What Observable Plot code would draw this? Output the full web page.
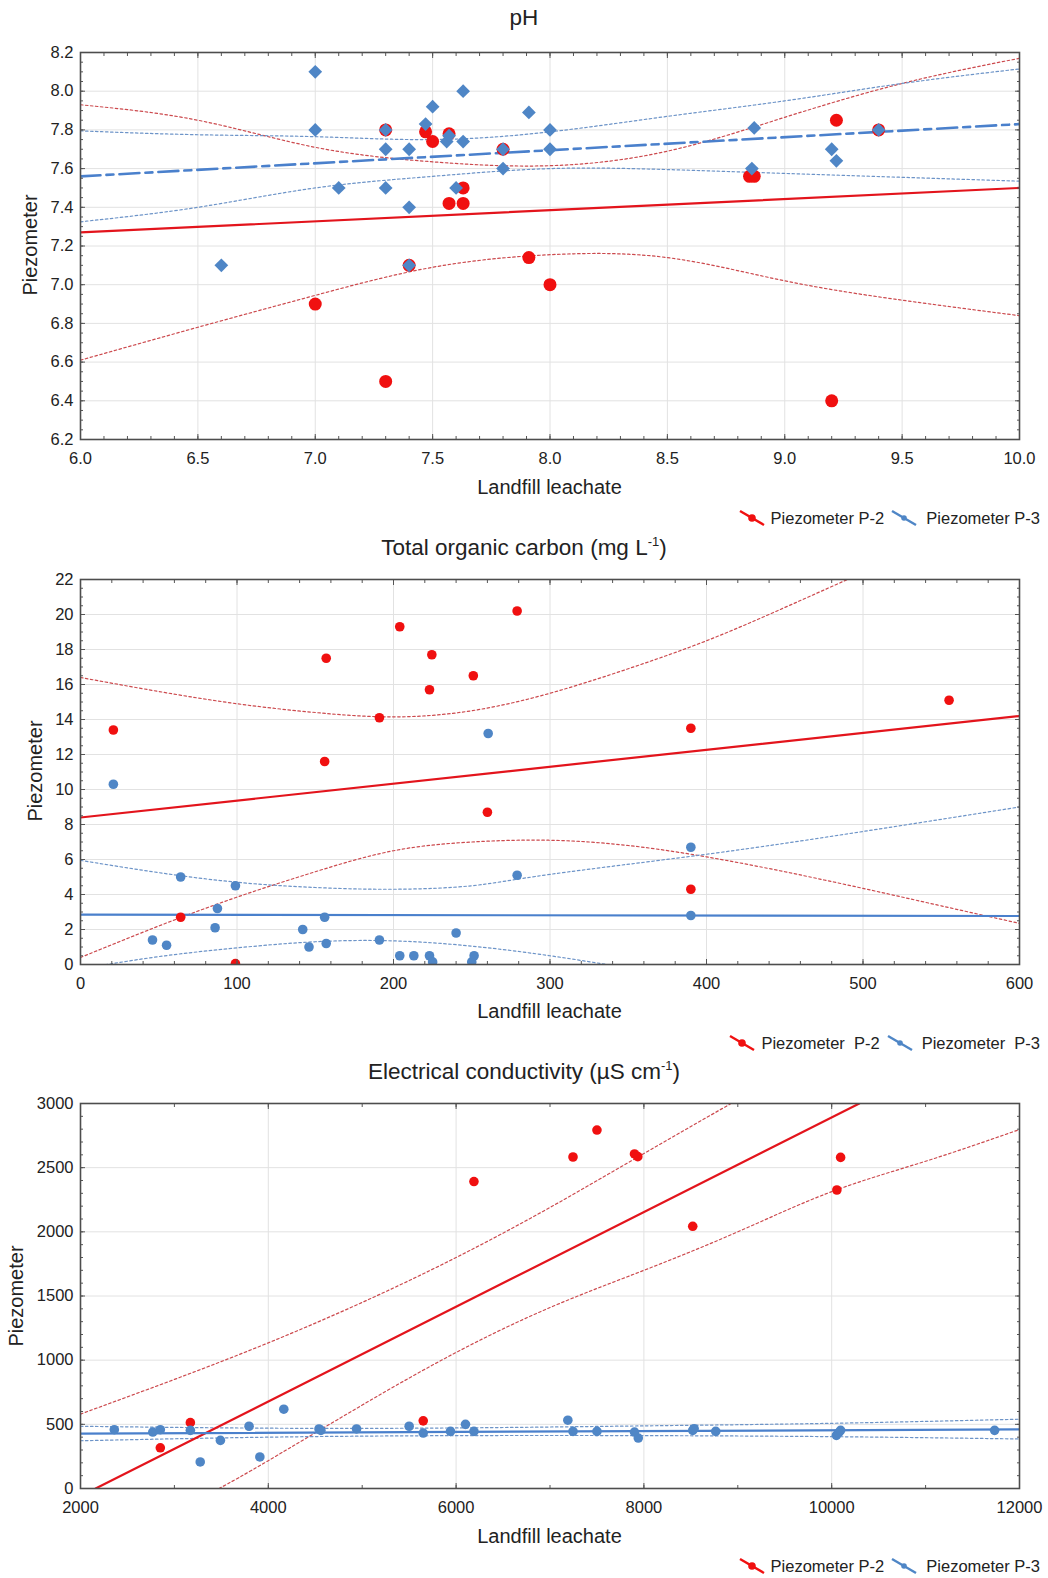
<!DOCTYPE html>
<html><head><meta charset="utf-8">
<script src="https://cdn.jsdelivr.net/npm/d3@7"></script>
<script src="https://cdn.jsdelivr.net/npm/@observablehq/plot@0.6"></script>
<style>
body{margin:0;background:#fff}
#wrap{position:relative;width:1048px;height:1578px;font-family:"Liberation Sans",Arial,Helvetica,sans-serif;color:#222;overflow:hidden;background:#fff}
.title{position:absolute;left:0;width:1048px;text-align:center;font-size:22.5px;line-height:26px;white-space:nowrap}
.title sup{font-size:13px;line-height:0;vertical-align:9px}
.panel{position:absolute;left:0}
.xlab{position:absolute;left:0;width:1099px;text-align:center;font-size:20px;line-height:24px}
.ylab{position:absolute;width:200px;height:24px;line-height:24px;text-align:center;font-size:20px;transform:rotate(-90deg)}
.legend{position:absolute;right:8px;height:22px;display:flex;align-items:center;font-size:16.5px;white-space:pre}
.legend svg{display:block}
</style>
</head><body>
<div id="wrap">
  <div class="title" style="top:5px">pH</div>
  <div class="title" style="top:535px">Total organic carbon (mg L<sup>-1</sup>)</div>
  <div class="title" style="top:1059px">Electrical conductivity (µS cm<sup>-1</sup>)</div>
  <div class="panel" id="p1" style="top:36px"></div>
  <div class="panel" id="p2" style="top:563px"></div>
  <div class="panel" id="p3" style="top:1087px"></div>
  <div class="xlab" style="top:475px">Landfill leachate</div>
  <div class="xlab" style="top:999px">Landfill leachate</div>
  <div class="xlab" style="top:1524px">Landfill leachate</div>
  <div class="ylab" style="left:-70px;top:233px">Piezometer</div>
  <div class="ylab" style="left:-65px;top:759px">Piezometer</div>
  <div class="ylab" style="left:-84px;top:1284px">Piezometer</div>
  <div class="legend" id="lg1" style="top:507px"></div>
  <div class="legend" id="lg2" style="top:1032px"></div>
  <div class="legend" id="lg3" style="top:1555px"></div>
</div>
<script>
// ---------- pH ----------
const phTicksX = [6.0, 6.5, 7.0, 7.5, 8.0, 8.5, 9.0, 9.5, 10.0];
const phTicksY = [6.2, 6.4, 6.6, 6.8, 7.0, 7.2, 7.4, 7.6, 7.8, 8.0, 8.2];
const phP2x = [7.0, 7.3, 7.3, 7.4, 7.47, 7.5, 7.57, 7.57, 7.63, 7.63, 7.8, 7.91, 8.0, 8.85, 8.87, 9.22, 9.2, 9.4];
const phP2y = [6.9, 7.8, 6.5, 7.1, 7.79, 7.74, 7.78, 7.42, 7.42, 7.5, 7.7, 7.14, 7.0, 7.56, 7.56, 7.85, 6.4, 7.8];
const phP3x = [6.6, 7.0, 7.0, 7.1, 7.3, 7.3, 7.3, 7.4, 7.4, 7.4, 7.47, 7.5, 7.56, 7.57, 7.6, 7.63, 7.63, 7.8, 7.8, 7.91, 8.0, 8.0, 8.86, 8.87, 9.2, 9.22, 9.4];
const phP3y = [7.1, 8.1, 7.8, 7.5, 7.8, 7.7, 7.5, 7.7, 7.4, 7.1, 7.83, 7.92, 7.74, 7.77, 7.5, 8.0, 7.74, 7.7, 7.6, 7.89, 7.8, 7.7, 7.6, 7.81, 7.7, 7.64, 7.8];
const phFitX = [6.0, 10.0];
const phP2fit = [7.27, 7.50];
const phP3fit = [7.56, 7.83];
const phCiX = [6.0, 6.5, 7.0, 7.5, 8.0, 8.5, 9.0, 9.5, 10.0];
const phP2up = [7.93, 7.85, 7.71, 7.635, 7.615, 7.69, 7.865, 8.04, 8.17];
const phP2lo = [6.61, 6.78, 6.945, 7.09, 7.155, 7.14, 7.02, 6.92, 6.84];
const phP3up = [7.795, 7.775, 7.765, 7.75, 7.79, 7.87, 7.95, 8.04, 8.115];
const phP3lo = [7.325, 7.40, 7.50, 7.56, 7.60, 7.595, 7.575, 7.555, 7.535];

// ---------- TOC ----------
const tocTicksX = [0, 100, 200, 300, 400, 500, 600];
const tocTicksY = [0, 2, 4, 6, 8, 10, 12, 14, 16, 18, 20, 22];
const tocP2x = [21, 64, 99, 156, 157, 191, 204, 223, 224.5, 251, 260, 279, 390, 390, 555];
const tocP2y = [13.4, 2.7, 0.05, 11.6, 17.5, 14.1, 19.3, 15.7, 17.7, 16.5, 8.7, 20.2, 13.5, 4.3, 15.1];
const tocP3x = [21, 46, 55, 64, 86, 87.5, 99, 142, 146, 156, 157, 191, 204, 213, 223, 225, 240, 250, 251.5, 260.5, 279, 390, 390];
const tocP3y = [10.3, 1.4, 1.1, 5.0, 2.1, 3.2, 4.5, 2.0, 1.0, 2.7, 1.2, 1.4, 0.5, 0.5, 0.5, 0.15, 1.8, 0.15, 0.5, 13.2, 5.1, 6.7, 2.8];
const tocFitX = [0, 600];
const tocP2fit = [8.4, 14.2];
const tocP3fit = [2.85, 2.77];
const tocP2upX = [0, 50, 100, 150, 200, 250, 300, 350, 400, 450, 500];
const tocP2up = [16.4, 15.6, 14.9, 14.4, 14.15, 14.5, 15.5, 16.9, 18.5, 20.4, 22.4];
const tocP2loX = [0, 50, 100, 150, 200, 250, 300, 350, 400, 450, 500, 550, 600];
const tocP2lo = [0.4, 2.2, 3.85, 5.3, 6.5, 7.0, 7.1, 6.8, 6.15, 5.3, 4.35, 3.35, 2.35];
const tocP3upX = [0, 50, 100, 150, 200, 250, 300, 400, 500, 600];
const tocP3up = [5.95, 5.25, 4.7, 4.4, 4.3, 4.5, 5.15, 6.3, 7.6, 9.0];
const tocP3loX = [0, 50, 100, 150, 200, 250, 300, 350];
const tocP3lo = [-0.25, 0.45, 0.95, 1.3, 1.35, 1.05, 0.5, -0.2];

// ---------- EC ----------
const ecTicksX = [2000, 4000, 6000, 8000, 10000, 12000];
const ecTicksY = [0, 500, 1000, 1500, 2000, 2500, 3000];
const ecP2x = [2850, 3170, 5650, 6190, 7245, 7500, 7900, 7935, 8520, 10055, 10095];
const ecP2y = [317, 513, 527, 2392, 2583, 2793, 2607, 2586, 2043, 2326, 2580];
const ecP3x = [2360, 2770, 2850, 3170, 3275, 3490, 3795, 3910, 4165, 4540, 4560, 4940, 5500, 5650, 5940, 6100, 6190, 7190, 7245, 7500, 7900, 7940, 8520, 8535, 8765, 10050, 10075, 10095, 11735];
const ecP3y = [458, 440, 458, 453, 207, 375, 485, 246, 618, 464, 453, 464, 485, 432, 445, 500, 445, 532, 445, 445, 440, 393, 453, 466, 445, 414, 435, 453, 453];
const ecP2fitX = [2161, 10294];
const ecP2fit = [0, 3000];
const ecP3fitX = [2000, 12000];
const ecP3fit = [427, 461];
const ecP2upX = [2000, 3000, 4000, 5000, 6000, 7000, 8000, 9000];
const ecP2up = [580, 850, 1135, 1450, 1800, 2190, 2610, 3030];
const ecP2loX = [3476, 4000, 5000, 6000, 7000, 8000, 9000, 10000, 11000, 12000];
const ecP2lo = [0, 217, 650, 1060, 1410, 1700, 2000, 2313, 2550, 2797];
const ecCiX = [2000, 4000, 6000, 8000, 10000, 12000];
const ecP3up = [485, 470, 472, 488, 508, 540];
const ecP3lo = [372, 400, 412, 412, 404, 386];

// ---------- styling ----------
const RED = "#f01010", RED_LINE = "#e3141c", RED_CI = "#cc4a4e";
const BLUE = "#4f86c6", BLUE_LINE = "#4a80cc", BLUE_CI = "#6d94c8";
const FONT = '"Liberation Sans", Arial, Helvetica, sans-serif';

const pts = (xs, ys) => xs.map((x, i) => ({x, y: ys[i]}));
const ci = (xs, ys, color) => Plot.line(pts(xs, ys), {x: "x", y: "y", stroke: color, strokeWidth: 1.2, strokeDasharray: "2.5,2.5", curve: "natural", clip: true});
const fit = (xs, ys, color, extra = {}) => Plot.line(pts(xs, ys), {x: "x", y: "y", stroke: color, strokeWidth: 2.2, clip: true, ...extra});
const range = (a, b, s) => d3.range(Math.round((b - a) / s) + 1).map(i => +(a + i * s).toFixed(6));

function panel({xDomain, yDomain, xTicks, yTicks, xMinor, yMinor, xFmt, yFmt, height, marks}) {
  const tickStyle = {stroke: "#555", strokeWidth: 1, tickFormat: () => "", label: null};
  return Plot.plot({
    width: 1048, height,
    marginLeft: 80, marginRight: 29, marginTop: 16, marginBottom: 64,
    style: {fontFamily: FONT, fontSize: "16.5px", color: "#222", background: "transparent"},
    x: {domain: xDomain, label: null},
    y: {domain: yDomain, label: null},
    marks: [
      Plot.gridX(xTicks, {stroke: "#e2e2e2", strokeOpacity: 1}),
      Plot.gridY(yTicks, {stroke: "#e2e2e2", strokeOpacity: 1}),
      ...marks,
      Plot.axisX(xMinor, {anchor: "bottom", tickSize: -3, ...tickStyle}),
      Plot.axisX(xMinor, {anchor: "top", tickSize: -3, ...tickStyle}),
      Plot.axisY(yMinor, {anchor: "left", tickSize: -3, ...tickStyle}),
      Plot.axisY(yMinor, {anchor: "right", tickSize: -3, ...tickStyle}),
      Plot.axisX(xTicks, {anchor: "top", tickSize: -5, ...tickStyle}),
      Plot.axisY(yTicks, {anchor: "right", tickSize: -5, ...tickStyle}),
      Plot.axisX(xTicks, {anchor: "bottom", tickSize: -5, ...tickStyle}),
      Plot.axisY(yTicks, {anchor: "left", tickSize: -5, ...tickStyle}),
      Plot.axisX(xTicks, {anchor: "bottom", tickSize: 0, tickPadding: 13, tickFormat: xFmt, label: null, fill: "#222"}),
      Plot.axisY(yTicks, {anchor: "left", tickSize: 0, tickPadding: 7, tickFormat: yFmt, label: null, fill: "#222"}),
      Plot.frame({stroke: "#4d4d4d", strokeWidth: 1.6})
    ]
  });
}

const f1 = d3.format(".1f"), fd = d3.format("d");

document.getElementById("p1").append(panel({
  xDomain: [6, 10], yDomain: [6.2, 8.2], xTicks: phTicksX, yTicks: phTicksY,
  xMinor: range(6, 10, 0.1), yMinor: range(6.2, 8.2, 0.05), xFmt: f1, yFmt: f1, height: 467,
  marks: [
    ci(phCiX, phP2up, RED_CI), ci(phCiX, phP2lo, RED_CI),
    ci(phCiX, phP3up, BLUE_CI), ci(phCiX, phP3lo, BLUE_CI),
    fit(phFitX, phP2fit, RED_LINE),
    fit(phFitX, phP3fit, BLUE_LINE, {strokeWidth: 2.6, strokeDasharray: "20,6,7,6"}),
    Plot.dot(pts(phP2x, phP2y), {x: "x", y: "y", r: 6.5, fill: RED, clip: true}),
    Plot.dot(pts(phP3x, phP3y), {x: "x", y: "y", r: 6.2, symbol: "diamond2", fill: BLUE, clip: true})
  ]
}));

document.getElementById("p2").append(panel({
  xDomain: [0, 600], yDomain: [0, 22], xTicks: tocTicksX, yTicks: tocTicksY,
  xMinor: range(0, 600, 20), yMinor: range(0, 22, 0.5), xFmt: fd, yFmt: fd, height: 465,
  marks: [
    ci(tocP2upX, tocP2up, RED_CI), ci(tocP2loX, tocP2lo, RED_CI),
    ci(tocP3upX, tocP3up, BLUE_CI), ci(tocP3loX, tocP3lo, BLUE_CI),
    fit(tocFitX, tocP2fit, RED_LINE),
    fit(tocFitX, tocP3fit, BLUE_LINE),
    Plot.dot(pts(tocP2x, tocP2y), {x: "x", y: "y", r: 4.8, fill: RED, clip: true}),
    Plot.dot(pts(tocP3x, tocP3y), {x: "x", y: "y", r: 4.8, fill: BLUE, clip: true})
  ]
}));

document.getElementById("p3").append(panel({
  xDomain: [2000, 12000], yDomain: [0, 3000], xTicks: ecTicksX, yTicks: ecTicksY,
  xMinor: range(2000, 12000, 1000), yMinor: range(0, 3000, 100), xFmt: fd, yFmt: fd, height: 465,
  marks: [
    ci(ecP2upX, ecP2up, RED_CI), ci(ecP2loX, ecP2lo, RED_CI),
    ci(ecCiX, ecP3up, BLUE_CI), ci(ecCiX, ecP3lo, BLUE_CI),
    fit(ecP2fitX, ecP2fit, RED_LINE),
    fit(ecP3fitX, ecP3fit, BLUE_LINE),
    Plot.dot(pts(ecP2x, ecP2y), {x: "x", y: "y", r: 4.8, fill: RED, clip: true}),
    Plot.dot(pts(ecP3x, ecP3y), {x: "x", y: "y", r: 4.8, fill: BLUE, clip: true})
  ]
}));

// ---------- legends ----------
const legendNames = ["Piezometer P-2", "Piezometer P-3"];
const legendNames2 = ["Piezometer  P-2", "Piezometer  P-3"];
function icon(color, dotR) {
  return `<svg width="28" height="20" viewBox="0 0 28 20"><line x1="2" y1="3" x2="26" y2="17" stroke="${color}" stroke-width="2.4"/><circle cx="14" cy="10" r="${dotR}" fill="${color}"/></svg>`;
}
function legend(id, names) {
  document.getElementById(id).innerHTML =
    `${icon(RED, 3.8)}<span style="margin:0 6px 0 5px">${names[0]}</span>${icon(BLUE, 2.8)}<span style="margin-left:8px">${names[1]}</span>`;
}
legend("lg1", legendNames);
legend("lg2", legendNames2);
legend("lg3", legendNames);
</script>
</body></html>
